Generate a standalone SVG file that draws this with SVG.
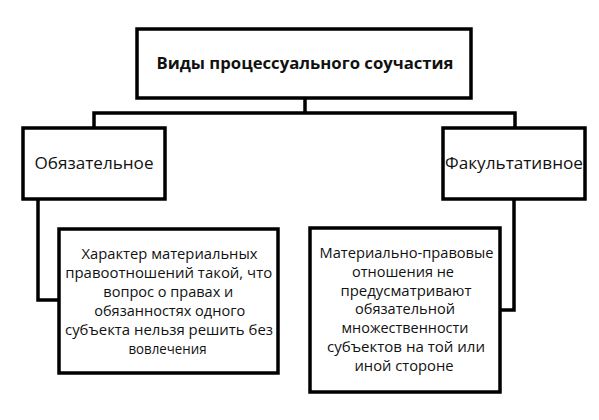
<svg xmlns="http://www.w3.org/2000/svg" width="599" height="420" viewBox="0 0 599 420">
<style>
.box{fill:#fff;stroke:#000;stroke-width:3.5}
.con{fill:none;stroke:#000;stroke-width:3.5}
.t{font-family:"Open Sans","Noto Sans","Liberation Sans",sans-serif;font-size:14px;fill:#111;text-anchor:middle}
.h{font-size:15.5px}
.b{font-weight:bold;font-size:15.5px}
</style>
<rect width="599" height="420" fill="#fff"/>
<g id="connectors">
<polyline class="con" points="305,98 305,113"/>
<polyline class="con" points="94,128 94,113 515,113 515,128"/>
<polyline class="con" points="38,199 38,300 59,300"/>
<polyline class="con" points="514,199 514,310 500,310"/>
</g>
<g id="root">
<rect class="box" x="137" y="29" width="334" height="69"/>
<text class="t b" x="305" y="69" textLength="297" lengthAdjust="spacingAndGlyphs">Виды процессуального  соучастия</text>
</g>
<g id="mandatory">
<rect class="box" x="23" y="128" width="142" height="71"/>
<text class="t h" x="94" y="169" textLength="119" lengthAdjust="spacingAndGlyphs">Обязательное</text>
</g>
<g id="optional">
<rect class="box" x="443" y="128" width="142" height="71"/>
<text class="t h" x="514" y="169" textLength="138" lengthAdjust="spacingAndGlyphs">Факультативное</text>
</g>
<g id="mandatory-desc">
<rect class="box" x="59" y="229" width="219" height="144"/>
<text class="t" x="169.5" y="259" textLength="176" lengthAdjust="spacingAndGlyphs">Характер материальных</text>
<text class="t" x="168.7" y="278" textLength="207" lengthAdjust="spacingAndGlyphs">правоотношений  такой, что</text>
<text class="t" x="168.3" y="297" textLength="130" lengthAdjust="spacingAndGlyphs">вопрос о правах и</text>
<text class="t" x="169.7" y="316" textLength="151" lengthAdjust="spacingAndGlyphs">обязанностях  одного</text>
<text class="t" x="169" y="335" textLength="208" lengthAdjust="spacingAndGlyphs">субъекта нельзя решить без</text>
<text class="t" x="167.5" y="354" textLength="78" lengthAdjust="spacingAndGlyphs">вовлечения</text>
</g>
<g id="optional-desc">
<rect class="box" x="310" y="228" width="190" height="164"/>
<text class="t" x="406.5" y="258" textLength="174" lengthAdjust="spacingAndGlyphs">Материально-правовые</text>
<text class="t" x="403" y="277" textLength="102" lengthAdjust="spacingAndGlyphs">отношения  не</text>
<text class="t" x="406" y="295.5" textLength="131" lengthAdjust="spacingAndGlyphs">предусматривают</text>
<text class="t" x="405" y="314" textLength="100" lengthAdjust="spacingAndGlyphs">обязательной</text>
<text class="t" x="405" y="333" textLength="127" lengthAdjust="spacingAndGlyphs">множественности</text>
<text class="t" x="406" y="352" textLength="158" lengthAdjust="spacingAndGlyphs">субъектов на той или</text>
<text class="t" x="404" y="371" textLength="99" lengthAdjust="spacingAndGlyphs">иной стороне</text>
</g>
</svg>
